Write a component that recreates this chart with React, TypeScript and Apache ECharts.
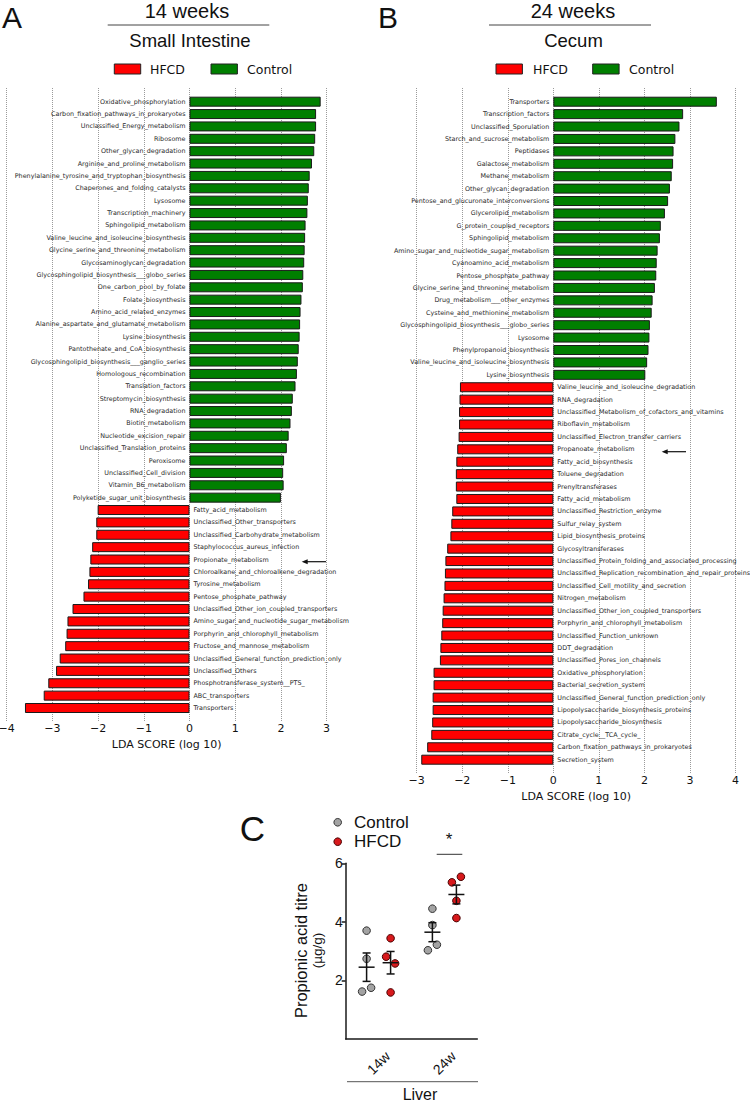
import React, { useEffect, useRef } from "react";
import * as echarts from "echarts";

// ---------- Panel A: 14 weeks, small intestine (LEfSe LDA scores) ----------
const A_CONTROL_LABELS = [
  "Oxidative_phosphorylation",
  "Carbon_fixation_pathways_in_prokaryotes",
  "Unclassified_Energy_metabolism",
  "Ribosome",
  "Other_glycan_degradation",
  "Arginine_and_proline_metabolism",
  "Phenylalanine_tyrosine_and_tryptophan_biosynthesis",
  "Chaperones_and_folding_catalysts",
  "Lysosome",
  "Transcription_machinery",
  "Sphingolipid_metabolism",
  "Valine_leucine_and_isoleucine_biosynthesis",
  "Glycine_serine_and_threonine_metabolism",
  "Glycosaminoglycan_degradation",
  "Glycosphingolipid_biosynthesis___globo_series",
  "One_carbon_pool_by_folate",
  "Folate_biosynthesis",
  "Amino_acid_related_enzymes",
  "Alanine_aspartate_and_glutamate_metabolism",
  "Lysine_biosynthesis",
  "Pantothenate_and_CoA_biosynthesis",
  "Glycosphingolipid_biosynthesis___ganglio_series",
  "Homologous_recombination",
  "Translation_factors",
  "Streptomycin_biosynthesis",
  "RNA_degradation",
  "Biotin_metabolism",
  "Nucleotide_excision_repair",
  "Unclassified_Translation_proteins",
  "Peroxisome",
  "Unclassified_Cell_division",
  "Vitamin_B6_metabolism",
  "Polyketide_sugar_unit_biosynthesis",
];
const A_CONTROL_LDA = [
  2.87, 2.77, 2.77, 2.75, 2.73, 2.68, 2.63, 2.61, 2.59, 2.58, 2.54, 2.53, 2.52,
  2.51, 2.49, 2.48, 2.45, 2.43, 2.42, 2.41, 2.39, 2.37, 2.35, 2.32, 2.26, 2.24,
  2.21, 2.17, 2.13, 2.07, 2.05, 2.06, 2.0,
];
const A_HFCD_LABELS = [
  "Fatty_acid_metabolism",
  "Unclassified_Other_transporters",
  "Unclassified_Carbohydrate_metabolism",
  "Staphylococcus_aureus_infection",
  "Propionate_metabolism",
  "Chloroalkane_and_chloroalkene_degradation",
  "Tyrosine_metabolism",
  "Pentose_phosphate_pathway",
  "Unclassified_Other_ion_coupled_transporters",
  "Amino_sugar_and_nucleotide_sugar_metabolism",
  "Porphyrin_and_chlorophyll_metabolism",
  "Fructose_and_mannose_metabolism",
  "Unclassified_General_function_prediction_only",
  "Unclassified_Others",
  "Phosphotransferase_system__PTS_",
  "ABC_transporters",
  "Transporters",
];
const A_HFCD_LDA = [
  2.01, 2.04, 2.04, 2.13, 2.17, 2.19, 2.22, 2.32, 2.56, 2.67, 2.69, 2.72, 2.84,
  2.92, 3.09, 3.19, 3.6,
];
const A_TICKS = [-4, 3];

// ---------- Panel B: 24 weeks, cecum ----------
const B_CONTROL_LABELS = [
  "Transporters",
  "Transcription_factors",
  "Unclassified_Sporulation",
  "Starch_and_sucrose_metabolism",
  "Peptidases",
  "Galactose_metabolism",
  "Methane_metabolism",
  "Other_glycan_degradation",
  "Pentose_and_glucuronate_interconversions",
  "Glycerolipid_metabolism",
  "G_protein_coupled_receptors",
  "Sphingolipid_metabolism",
  "Amino_sugar_and_nucleotide_sugar_metabolism",
  "Cyanoamino_acid_metabolism",
  "Pentose_phosphate_pathway",
  "Glycine_serine_and_threonine_metabolism",
  "Drug_metabolism___other_enzymes",
  "Cysteine_and_methionine_metabolism",
  "Glycosphingolipid_biosynthesis___globo_series",
  "Lysosome",
  "Phenylpropanoid_biosynthesis",
  "Valine_leucine_and_isoleucine_biosynthesis",
  "Lysine_biosynthesis",
];
const B_CONTROL_LDA = [
  3.59, 2.85, 2.77, 2.68, 2.64, 2.63, 2.6, 2.56, 2.52, 2.45, 2.36, 2.34, 2.29,
  2.27, 2.26, 2.23, 2.18, 2.16, 2.12, 2.11, 2.09, 2.06, 2.02,
];
const B_HFCD_LABELS = [
  "Valine_leucine_and_isoleucine_degradation",
  "RNA_degradation",
  "Unclassified_Metabolism_of_cofactors_and_vitamins",
  "Riboflavin_metabolism",
  "Unclassified_Electron_transfer_carriers",
  "Propanoate_metabolism",
  "Fatty_acid_biosynthesis",
  "Toluene_degradation",
  "Prenyltransferases",
  "Fatty_acid_metabolism",
  "Unclassified_Restriction_enzyme",
  "Sulfur_relay_system",
  "Lipid_biosynthesis_proteins",
  "Glycosyltransferases",
  "Unclassified_Protein_folding_and_associated_processing",
  "Unclassified_Replication_recombination_and_repair_proteins",
  "Unclassified_Cell_motility_and_secretion",
  "Nitrogen_metabolism",
  "Unclassified_Other_ion_coupled_transporters",
  "Porphyrin_and_chlorophyll_metabolism",
  "Unclassified_Function_unknown",
  "DDT_degradation",
  "Unclassified_Pores_ion_channels",
  "Oxidative_phosphorylation",
  "Bacterial_secretion_system",
  "Unclassified_General_function_prediction_only",
  "Lipopolysaccharide_biosynthesis_proteins",
  "Lipopolysaccharide_biosynthesis",
  "Citrate_cycle__TCA_cycle_",
  "Carbon_fixation_pathways_in_prokaryotes",
  "Secretion_system",
];
const B_HFCD_LDA = [
  2.05, 2.06, 2.07, 2.07, 2.08, 2.11, 2.13, 2.14, 2.14, 2.13, 2.22, 2.24, 2.26,
  2.33, 2.37, 2.38, 2.39, 2.41, 2.43, 2.44, 2.46, 2.48, 2.49, 2.63, 2.63, 2.65,
  2.65, 2.66, 2.68, 2.77, 2.9,
];
const B_TICKS = [-3, 4];

// ---------- Panel C: propionic acid titre in liver ----------
const C_CATEGORIES = ["14w", "24w"];
const C_GROUPS = ["Control", "HFCD"];
const C_CONTROL = [
  [3.7, 2.74, 1.62, 1.75],
  [4.45, 3.89, 3.03, 3.22],
];
const C_HFCD = [
  [3.44, 2.81, 2.58, 1.59],
  [5.35, 5.54, 4.72, 4.13],
];
const C_Y_TICKS = [2, 4, 6];

// ---------- styling / layout constants ----------
const GREEN = "#007f00";
const RED = "#ff0000";
const BAR_LABEL_FONT = "DejaVu Sans";
const SANS = "Liberation Sans";
const JITTER = [
  [[0, 0, -1, 1], [0, -1, 1, 0]],
  [[0, 0, -1, 1], [-1, 1, 0, 0]],
];
const JIT_PX = 4.5;
const GROUP_OFFSET = [-12, 12];
const DOT_FILL = ["#a3a3a3", "#d7191c"];
const DOT_STROKE = ["#333333", "#4a0000"];

const minusFmt = (v: number) => String(v).replace("-", "\u2212");

const barLabel = (position: string) => ({
  show: true,
  position,
  distance: 4,
  formatter: "{b}",
  fontSize: 6.4,
  fontFamily: BAR_LABEL_FONT,
  color: "#2a2a2a",
  textBorderWidth: 0,
  textBorderColor: "transparent",
  textShadowBlur: 0,
});

function barSeries(
  ctrlLabels: string[],
  ctrlVals: number[],
  hfcdLabels: string[],
  hfcdVals: number[],
  axisIndex: number
) {
  const greenData = [...ctrlVals, ...hfcdLabels.map(() => "-")];
  const redData = [...ctrlLabels.map(() => "-"), ...hfcdVals.map((v) => -v)];
  const common = {
    type: "bar",
    xAxisIndex: axisIndex,
    yAxisIndex: axisIndex,
    barWidth: 10,
    barGap: "-100%",
    silent: true,
  };
  return [
    {
      ...common,
      name: "Control",
      data: greenData,
      itemStyle: { color: GREEN, borderColor: "#1a1a1a", borderWidth: 1 },
      label: barLabel("left"),
    },
    {
      ...common,
      name: "HFCD",
      data: redData,
      itemStyle: { color: RED, borderColor: "#1a1a1a", borderWidth: 1 },
      label: barLabel("right"),
    },
  ];
}

function ldaAxes(gridLines: number, gridBars: number, ticks: number[], cats: string[]) {
  const xAxes = [
    {
      gridIndex: gridLines,
      type: "value",
      min: ticks[0],
      max: ticks[1],
      interval: 1,
      axisLine: { show: false },
      axisTick: { show: false },
      splitLine: { show: true, lineStyle: { type: "dotted", color: "#9a9a9a", width: 1 } },
      axisLabel: {
        formatter: minusFmt,
        fontSize: 11,
        fontFamily: BAR_LABEL_FONT,
        color: "#111",
        margin: 2,
      },
      name: "LDA SCORE (log 10)",
      nameLocation: "middle",
      nameGap: 17,
      nameTextStyle: { fontSize: 11, fontFamily: BAR_LABEL_FONT, color: "#111" },
    },
    {
      gridIndex: gridBars,
      type: "value",
      min: ticks[0],
      max: ticks[1],
      show: false,
    },
  ];
  const yAxes = [
    { gridIndex: gridLines, type: "value", min: 0, max: 1, show: false },
    { gridIndex: gridBars, type: "category", data: cats, inverse: true, show: false },
  ];
  return { xAxes, yAxes };
}

function mean(a: number[]) {
  return a.reduce((s, v) => s + v, 0) / a.length;
}
function sem(a: number[]) {
  const m = mean(a);
  const v = a.reduce((s, x) => s + (x - m) * (x - m), 0) / (a.length - 1);
  return Math.sqrt(v) / Math.sqrt(a.length);
}

function buildOption() {
  const aCats = [...A_CONTROL_LABELS, ...A_HFCD_LABELS];
  const bCats = [...B_CONTROL_LABELS, ...B_HFCD_LABELS];
  const A = ldaAxes(0, 1, A_TICKS, aCats);
  const B = ldaAxes(2, 3, B_TICKS, bCats);

  const groupsData = [C_CONTROL, C_HFCD];
  const points: number[][] = [];
  const errs: number[][] = [];
  groupsData.forEach((g, gi) => {
    g.forEach((vals, ci) => {
      vals.forEach((v, k) => points.push([ci, v, gi, JITTER[ci][gi][k]]));
      errs.push([ci, mean(vals), sem(vals), gi]);
    });
  });

  const cAxisLine = { lineStyle: { color: "#1a1a1a", width: 1.5 } };

  const graphic: any[] = [];
  const txt = (
    text: string,
    x: number,
    y: number,
    fontSize: number,
    family: string,
    align = "center",
    extra: any = {},
    vAlign = "middle"
  ) => ({
    type: "text",
    x,
    y,
    ...extra,
    style: {
      text,
      fontSize,
      fontFamily: family,
      fill: "#111",
      textAlign: align,
      align,
      textVerticalAlign: vAlign,
      verticalAlign: vAlign,
    },
  });
  const line = (x1: number, y1: number, x2: number, y2: number, color = "#333", w = 1) => ({
    type: "line",
    shape: { x1, y1, x2, y2 },
    style: { stroke: color, lineWidth: w },
  });
  // panel letters
  graphic.push(txt("A", 2, 17, 30, SANS, "left"));
  graphic.push(txt("B", 378, 17, 30, SANS, "left"));
  graphic.push(txt("C", 252.5, 828, 35, SANS));
  // headers
  graphic.push(txt("14 weeks", 187, 11, 20, SANS));
  graphic.push(line(107.7, 25, 269.3, 25, "#444"));
  graphic.push(txt("Small Intestine", 190, 40, 18.5, SANS));
  graphic.push(txt("24 weeks", 573, 11, 20, SANS));
  graphic.push(line(489, 25, 651, 25, "#444"));
  graphic.push(txt("Cecum", 573.5, 40, 18.5, SANS));
  // legends A/B
  const legend = (xr: number, xt: number, xg: number, xt2: number) => {
    graphic.push({
      type: "rect",
      shape: { x: xr, y: 64, width: 26.4, height: 10 },
      style: { fill: RED, stroke: "#222", lineWidth: 1 },
    });
    graphic.push(txt("HFCD", xt, 69, 12.5, BAR_LABEL_FONT, "left"));
    graphic.push({
      type: "rect",
      shape: { x: xg, y: 64, width: 26.4, height: 10 },
      style: { fill: GREEN, stroke: "#222", lineWidth: 1 },
    });
    graphic.push(txt("Control", xt2, 69, 12.5, BAR_LABEL_FONT, "left"));
  };
  legend(114.3, 150, 211, 247);
  legend(496, 533, 592.7, 629);
  // arrows
  const arrow = (x1: number, x2: number, y: number) => {
    graphic.push(line(x1 + 4, y, x2, y, "#111", 1.2));
    graphic.push({
      type: "polygon",
      shape: { points: [[x1, y], [x1 + 6, y - 2.5], [x1 + 6, y + 2.5]] },
      style: { fill: "#111" },
    });
  };
  arrow(301.7, 326, 561.7);
  arrow(661.7, 686, 451.7);
  // panel C legend
  C_GROUPS.forEach((g, i) => {
    const y = i === 0 ? 822.3 : 841.7;
    graphic.push({
      type: "circle",
      shape: { cx: 337.7, cy: y, r: 3.8 },
      style: { fill: DOT_FILL[i], stroke: DOT_STROKE[i], lineWidth: 1 },
    });
    graphic.push(txt(g, 354, y, 17, SANS, "left"));
  });
  // significance
  graphic.push(txt("*", 449, 839, 17, SANS));
  graphic.push(line(436.7, 854.3, 462.3, 854.3, "#333", 1));
  // y title
  graphic.push(txt("Propionic acid titre", 301, 950.5, 16.4, SANS, "center", { rotation: Math.PI / 2 }));
  graphic.push(txt("(\u00b5g/g)", 317, 950.5, 13.5, SANS, "center", { rotation: Math.PI / 2 }));
  // Liver bracket
  graphic.push(line(347, 1081.7, 478, 1081.7, "#555", 1));
  graphic.push(txt("Liver", 420, 1094, 16, SANS));

  return {
    animation: false,
    backgroundColor: "#ffffff",
    grid: [
      { left: 6.7, top: 88, width: 319.9, height: 633, containLabel: false, outerBoundsMode: "none" },
      { left: 6.7, top: 95.5, width: 319.9, height: 618.7, containLabel: false, outerBoundsMode: "none" },
      { left: 416.7, top: 88, width: 318.8, height: 685, containLabel: false, outerBoundsMode: "none" },
      { left: 416.7, top: 95.5, width: 318.8, height: 670.4, containLabel: false, outerBoundsMode: "none" },
      { left: 345.7, top: 863.3, width: 131.6, height: 175.7, containLabel: false, outerBoundsMode: "none" },
    ],
    xAxis: [
      ...A.xAxes,
      ...B.xAxes,
      {
        gridIndex: 4,
        type: "category",
        data: C_CATEGORIES,
        axisLine: cAxisLine,
        axisTick: { alignWithLabel: true, length: 4, lineStyle: { color: "#1a1a1a", width: 1.5 } },
        axisLabel: {
          rotate: 45,
          align: "center",
          verticalAlign: "middle",
          margin: 24,
          fontSize: 14,
          fontFamily: SANS,
          color: "#111",
        },
      },
    ],
    yAxis: [
      ...A.yAxes,
      ...B.yAxes,
      {
        gridIndex: 4,
        type: "value",
        min: 0,
        max: 6,
        interval: 2,
        axisLine: { show: true, ...cAxisLine },
        axisTick: { show: true, length: 4, customValues: C_Y_TICKS, lineStyle: { color: "#1a1a1a", width: 1.5 } },
        axisLabel: { customValues: C_Y_TICKS, fontSize: 14, fontFamily: SANS, color: "#111", margin: 3 },
        splitLine: { show: false },
      },
    ],
    series: [
      ...barSeries(A_CONTROL_LABELS, A_CONTROL_LDA, A_HFCD_LABELS, A_HFCD_LDA, 1),
      ...barSeries(B_CONTROL_LABELS, B_CONTROL_LDA, B_HFCD_LABELS, B_HFCD_LDA, 3),
      {
        type: "custom",
        name: "points",
        xAxisIndex: 4,
        yAxisIndex: 4,
        silent: true,
        encode: { x: 0, y: 1 },
        data: points,
        renderItem: (params: any, api: any) => {
          const c = api.coord([api.value(0), api.value(1)]);
          const g = api.value(2);
          const j = api.value(3);
          return {
            type: "circle",
            shape: { cx: c[0] + GROUP_OFFSET[g] + j * JIT_PX, cy: c[1], r: 3.8 },
            style: { fill: DOT_FILL[g], stroke: DOT_STROKE[g], lineWidth: 1 },
          };
        },
      },
      {
        type: "custom",
        name: "meanSem",
        xAxisIndex: 4,
        yAxisIndex: 4,
        silent: true,
        encode: { x: 0, y: 1 },
        data: errs,
        z: 5,
        renderItem: (params: any, api: any) => {
          const ci = api.value(0);
          const m = api.value(1);
          const s = api.value(2);
          const g = api.value(3);
          const mid = api.coord([ci, m]);
          const top = api.coord([ci, m + s]);
          const bot = api.coord([ci, m - s]);
          const x = mid[0] + GROUP_OFFSET[g];
          const st = { stroke: "#111", lineWidth: 1.5 };
          return {
            type: "group",
            children: [
              { type: "line", shape: { x1: x, y1: top[1], x2: x, y2: bot[1] }, style: st },
              { type: "line", shape: { x1: x - 4, y1: top[1], x2: x + 4, y2: top[1] }, style: st },
              { type: "line", shape: { x1: x - 4, y1: bot[1], x2: x + 4, y2: bot[1] }, style: st },
              { type: "line", shape: { x1: x - 8, y1: mid[1], x2: x + 8, y2: mid[1] }, style: st },
            ],
          };
        },
      },
    ],
    graphic,
  };
}

export default function App() {
  const ref = useRef<HTMLDivElement>(null);
  useEffect(() => {
    document.body.style.margin = "0";
    const chart = echarts.init(ref.current as HTMLDivElement, null, { renderer: "svg" });
    chart.setOption(buildOption() as any);
    return () => chart.dispose();
  }, []);
  return <div ref={ref} style={{ width: 750, height: 1101 }} />;
}
